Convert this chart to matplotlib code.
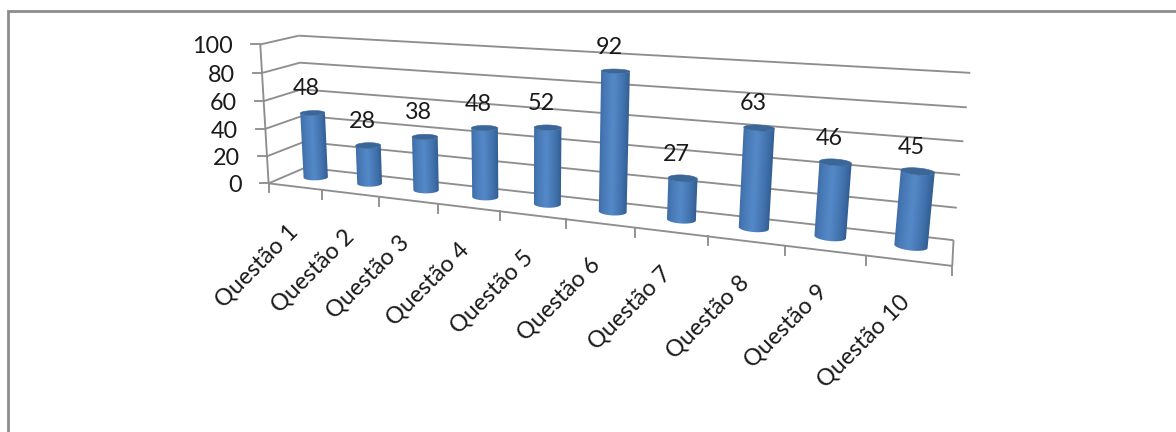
import numpy as np
import matplotlib
matplotlib.use("Agg")
import matplotlib.pyplot as plt
from matplotlib.colors import LinearSegmentedColormap
from matplotlib.patches import Polygon

categories = ["Questão 1", "Questão 2", "Questão 3", "Questão 4", "Questão 5",
              "Questão 6", "Questão 7", "Questão 8", "Questão 9", "Questão 10"]
values = [48, 28, 38, 48, 52, 92, 27, 63, 46, 45]
value_ticks = [0, 20, 40, 60, 80, 100]

WIDTH, HEIGHT = 1176, 432
GRID = "#8e8e8e"
TEXT = "#1a1a1a"
FONT = "Lato"
FONT_SIZE = 16.8

# Camera calibration: box corners (category, depth, value) and where they land on the canvas.
box_corners = np.array([
    (0, 0, 0), (0, 1, 0), (0, 0, 100), (0, 1, 100),
    (10, 1, 0), (10, 1, 100), (10, 0, 0),
], float)
canvas_corners = np.array([
    (272, 183), (302, 168), (257, 44), (302, 36),
    (954, 239), (970, 73), (952, 267),
], float)


def fit_camera(world, screen):
    rows, rhs = [], []
    for (a, b, c), (x, y) in zip(world, screen):
        rows.append([a, b, c, 1, 0, 0, 0, 0, -x * a, -x * b, -x * c])
        rhs.append(x)
        rows.append([0, 0, 0, 0, a, b, c, 1, -y * a, -y * b, -y * c])
        rhs.append(y)
    solution = np.linalg.lstsq(np.array(rows), np.array(rhs), rcond=None)[0]
    return np.append(solution, 1.0).reshape(3, 4)


CAMERA = fit_camera(box_corners, canvas_corners)


def project(u, w, z):
    u, w, z = np.broadcast_arrays(u, w, z)
    pts = np.stack([u, w, z, np.ones_like(u, dtype=float)], axis=-1) @ CAMERA.T
    return pts[..., :2] / pts[..., 2:]


fig = plt.figure(figsize=(WIDTH / 100, HEIGHT / 100), dpi=100)
ax = fig.add_axes([0, 0, 1, 1])
ax.axis("off")

# Outer chart frame: open towards the right and bottom edges of the canvas.
ax.plot([8, 8, WIDTH + 5], [HEIGHT + 5, 11, 11], color="#8c8c8c", lw=2.0,
        solid_joinstyle="miter", zorder=1)


def seg(a, b, lw=1.35, z=2):
    p = project(*np.array([a, b], float).T)
    ax.plot(p[:, 0], p[:, 1], color=GRID, lw=lw, solid_capstyle="butt", zorder=z)


# Walls, floor edges and ticks of the 3-D box.
for v in value_ticks:
    corner = (0, 1, v)
    seg((0, 0, v), corner)
    seg(corner, (10, 1, v))
    x, y = project(0, 0, v)
    ax.plot([x - 9, x], [y, y], color=GRID, lw=1.35, zorder=2)
    ax.text(x - 27, y + 2.5, str(v), ha="right", va="center", fontsize=FONT_SIZE,
            family=FONT, color=TEXT, zorder=5)
seg((0, 0, 0), (0, 0, 100))
seg((0, 0, 0), (10, 0, 0))
seg((10, 0, 0), (10, 1, 0))
for i in range(len(categories) + 1):
    x, y = project(i, 0, 0)
    ax.plot([x, x], [y, y + 9], color=GRID, lw=1.35, zorder=2)

shade = LinearSegmentedColormap.from_list(
    "cylinder", [(0, "#3f6ea8"), (0.12, "#4778b5"), (0.45, "#5489c8"),
                 (0.8, "#4272ad"), (1, "#335f94")])

RADIUS_U, RADIUS_W = 0.2, 0.17
DEPTH_CENTER = 0.56
theta = np.linspace(0, 2 * np.pi, 241)[:-1]
OVERSAMPLE = 3


def ring(i, z):
    return project(i + 0.5 + RADIUS_U * np.cos(theta),
                   DEPTH_CENTER + RADIUS_W * np.sin(theta), z)


for i, val in enumerate(values):
    low, high = ring(i, 0), ring(i, val)
    # Visible wall: the front arc between the leftmost and rightmost points of the base.
    left, right = np.argmin(low[:, 0]), np.argmax(low[:, 0])
    stop = right + len(theta) if left > right else right
    arc = np.arange(left, stop + 1) % len(theta)
    outline = np.vstack([low[arc], high[arc][::-1]])

    # Horizontal shading follows the slant of the cylinder's two side edges.
    x0, x1 = np.floor(outline[:, 0].min()) - 2, np.ceil(outline[:, 0].max()) + 2
    y0, y1 = np.floor(outline[:, 1].min()) - 2, np.ceil(outline[:, 1].max()) + 2
    xs = np.linspace(x0, x1, int(x1 - x0) * OVERSAMPLE)
    ys = np.linspace(y0, y1, int(y1 - y0) * OVERSAMPLE)
    gx, gy = np.meshgrid(xs, ys)
    frac = (gy - low[left, 1]) / (high[left, 1] - low[left, 1])
    edge_l = low[left, 0] + frac * (high[left, 0] - low[left, 0])
    edge_r = low[right, 0] + frac * (high[right, 0] - low[right, 0])
    wall = shade(np.clip((gx - edge_l) / (edge_r - edge_l), 0, 1))
    image = ax.imshow(wall, extent=(x0, x1, y1, y0), origin="upper", aspect="auto",
                      interpolation="bilinear", zorder=3)
    image.set_clip_path(Polygon(outline, closed=True, transform=ax.transData))

    ax.add_patch(Polygon(high, closed=True, facecolor="#3a6698", edgecolor="#3a6698",
                         lw=0.4, zorder=4))
    cx, cy = project(i + 0.5, DEPTH_CENTER, val)
    ax.text(cx - 6, cy - 24, str(val), ha="center", va="center", fontsize=FONT_SIZE,
            family=FONT, color=TEXT, zorder=5)

ax.set_xlim(0, WIDTH)
ax.set_ylim(HEIGHT, 0)

# Slanted category labels, centred at an offset from each slot on the front edge.
label_dx = [-38, -38, -40, -41, -41, -41, -41, -38, -39, -45]
label_dy = [80, 78, 77, 77, 77, 76, 76, 76, 76, 81]
for i, name in enumerate(categories):
    x, y = project(i + 0.5, 0, 0)
    ax.text(x + label_dx[i], y + label_dy[i], name, rotation=45, ha="center", va="center",
            fontsize=FONT_SIZE, family=FONT, color=TEXT, zorder=5)

fig.savefig("out.png", dpi=100, facecolor="white")
